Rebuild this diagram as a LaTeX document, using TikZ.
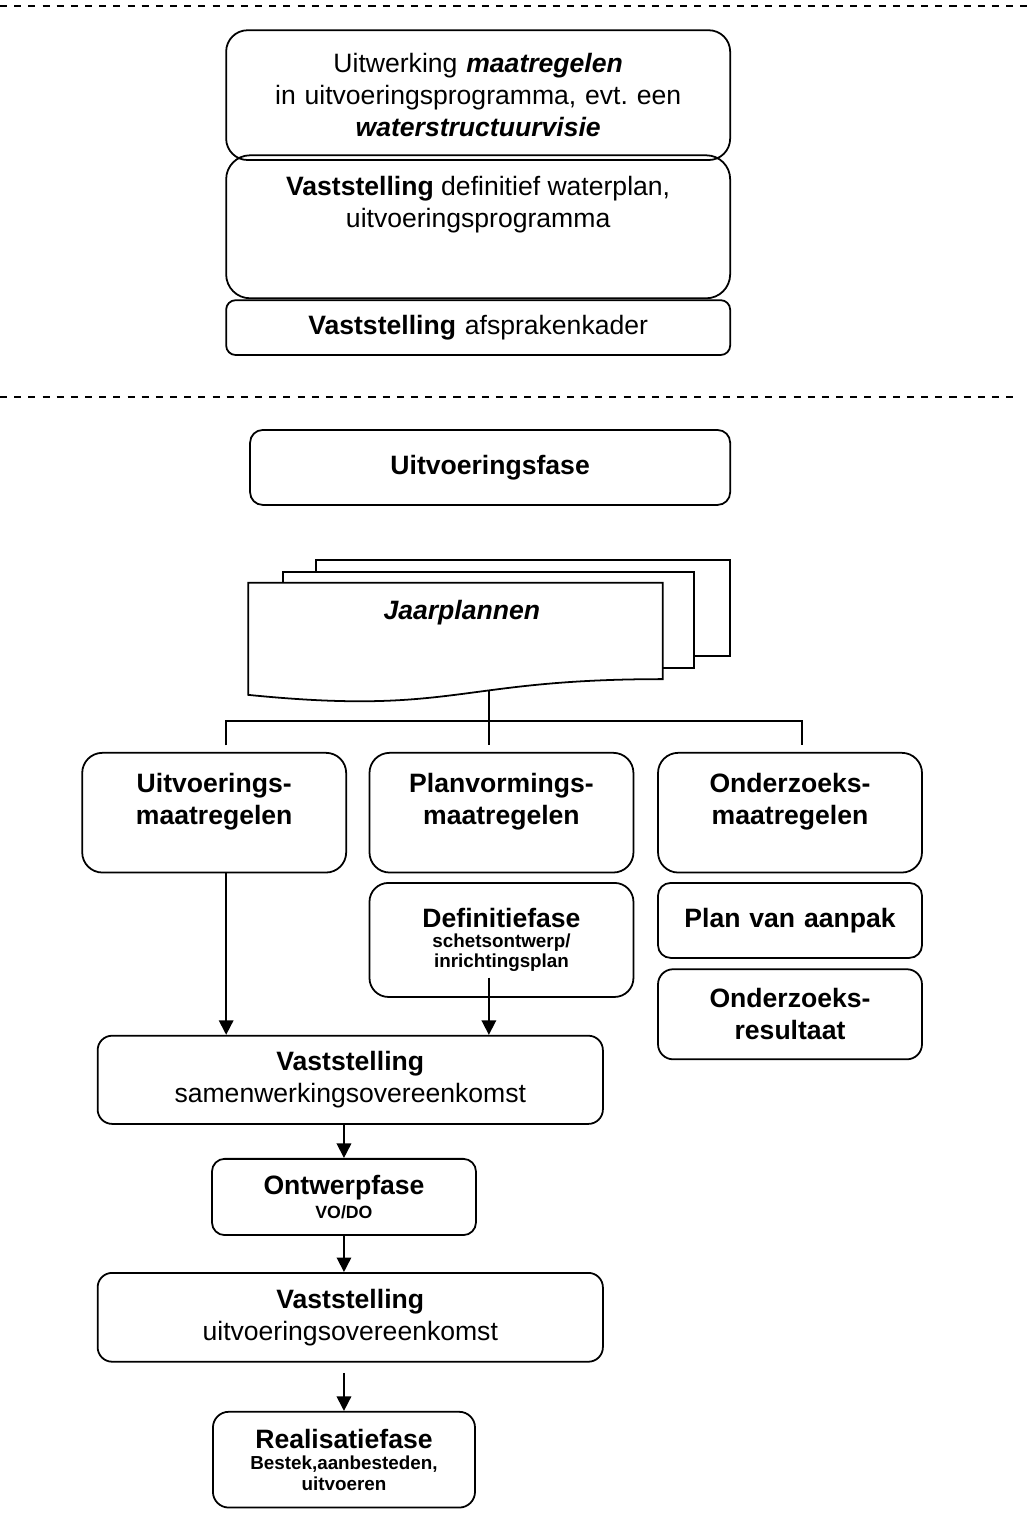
\documentclass[12pt,tikz,border=0pt]{standalone}
\usepackage{fontspec}
\setmainfont{Liberation Sans}
\usepackage{tikz}
\usetikzlibrary{arrows.meta}

\frenchspacing
\newcommand{\klein}{\fontsize{8.5}{9}\selectfont}
\newcommand{\bovenaan}[3]{\parbox[c][#2][t]{#1}{\centering\vspace*{3.3mm}#3\par}}

\begin{document}
\begin{tikzpicture}[
        fase/.style={draw=black, line width=0.8pt, rounded corners=0.25cm, inner sep=0pt, align=center},
        lijn/.style={line width=0.8pt},
        pijl/.style={line width=0.8pt, -{Triangle[length=2.3mm, width=2.3mm]}},
        scheiding/.style={line width=0.8pt, dash pattern=on 3.2pt off 3.2pt}]
            \useasboundingbox (0,0) rectangle (16.41,-24.08);

            \draw[scheiding] (0,-0.10) -- (16.41,-0.10);
            \draw[scheiding] (0,-6.30) -- (16.16,-6.30);

            \node[fase, rounded corners=0.34cm, text width=8cm, minimum height=2.06cm] (uitwerking) at (7.59,-1.51) {Uitwerking \textbf{\textit{maatregelen}}\\ in uitvoeringsprogramma, evt. een\\ \textbf{\textit{waterstructuurvisie}}};
            \node[fase, rounded corners=0.38cm] (waterplan) at (7.59,-3.60) {\bovenaan{8cm}{2.27cm}{\textbf{Vaststelling} definitief waterplan,\\ uitvoeringsprogramma}};
            \node[fase, rounded corners=0.15cm, text width=8cm, minimum height=0.87cm] (afspraken) at (7.59,-5.20) {\textbf{Vaststelling} afsprakenkader};

            \node[fase, rounded corners=0.2cm, text width=7.62cm, minimum height=1.19cm] (uitvfase) at (7.78,-7.42) {\textbf{Uitvoeringsfase}};

            \filldraw[lijn, fill=white] (5.02,-8.89) rectangle (11.59,-10.41);
            \filldraw[lijn, fill=white] (4.49,-9.08) rectangle (11.02,-10.60);
            \filldraw[lijn, fill=white] (3.94,-9.25) -- (10.52,-9.25) -- (10.52,-10.78) .. controls (7.23,-10.78) and (7.23,-11.36) .. (3.94,-11.03) -- cycle;
            \node (jaarplannen) at (7.33,-9.72) {\textbf{\textit{Jaarplannen}}};

            \node[fase, rounded corners=0.32cm] (uitmaat) at (3.40,-12.90) {\bovenaan{4.19cm}{1.90cm}{\textbf{Uitvoerings-\\maatregelen}}};
            \node[fase, rounded corners=0.32cm] (planmaat) at (7.96,-12.90) {\bovenaan{4.19cm}{1.90cm}{\textbf{Planvormings-\\maatregelen}}};
            \node[fase, rounded corners=0.32cm] (ondmaat) at (12.54,-12.90) {\bovenaan{4.19cm}{1.90cm}{\textbf{Onderzoeks-\\maatregelen}}};

            \node[fase, rounded corners=0.3cm, text width=4.19cm, minimum height=1.81cm] (definitie) at (7.96,-14.92) {\textbf{Definitiefase}\par{\klein\bfseries schetsontwerp/\\inrichtingsplan\par}};
            \node[fase, rounded corners=0.2cm, text width=4.19cm, minimum height=1.19cm] (aanpak) at (12.54,-14.61) {\textbf{Plan van aanpak}};
            \node[fase, rounded corners=0.24cm, text width=4.19cm, minimum height=1.43cm] (resultaat) at (12.54,-16.10) {\textbf{Onderzoeks-\\resultaat}};

            \node[fase, rounded corners=0.23cm, text width=8.02cm, minimum height=1.40cm] (samenwerking) at (5.56,-17.14) {\textbf{Vaststelling}\\samenwerkingsovereenkomst};
            \node[fase, rounded corners=0.2cm, text width=4.19cm, minimum height=1.21cm] (ontwerp) at (5.46,-19.00) {\textbf{Ontwerpfase}\par{\fontsize{8}{11}\selectfont\bfseries VO/DO\par}};
            \node[fase, rounded corners=0.23cm, text width=8.02cm, minimum height=1.41cm] (uitvoering) at (5.56,-20.91) {\textbf{Vaststelling}\\uitvoeringsovereenkomst};
            \node[fase, rounded corners=0.25cm, text width=4.16cm, minimum height=1.52cm] (realisatie) at (5.46,-23.17) {\textbf{Realisatiefase}\par{\fontsize{8.5}{9.5}\selectfont\bfseries Bestek,aanbesteden,\\uitvoeren\par}};

            \coordinate (jpvoet) at (7.76,-10.97);
            \coordinate (takU) at (3.59,-11.83);
            \coordinate (takP) at (7.76,-11.83);
            \coordinate (takO) at (12.73,-11.83);
            \coordinate (defvoet) at (7.76,-15.52);
            \coordinate (uitvvoet) at (5.46,-21.79);

            \draw[lijn] (jpvoet) -- (takP);
            \draw[lijn] (takU) -- ++(0,0.39) -| (takO);

            \draw[pijl] (uitmaat.south -| takU) -- (samenwerking.north -| takU);
            \draw[pijl] (defvoet) -- (samenwerking.north -| defvoet);
            \draw[pijl] (samenwerking.south -| ontwerp.north) -- (ontwerp.north);
            \draw[pijl] (ontwerp.south) -- (uitvoering.north -| ontwerp.south);
            \draw[pijl] (uitvvoet) -- (realisatie.north);

        \end{tikzpicture}
\end{document}
